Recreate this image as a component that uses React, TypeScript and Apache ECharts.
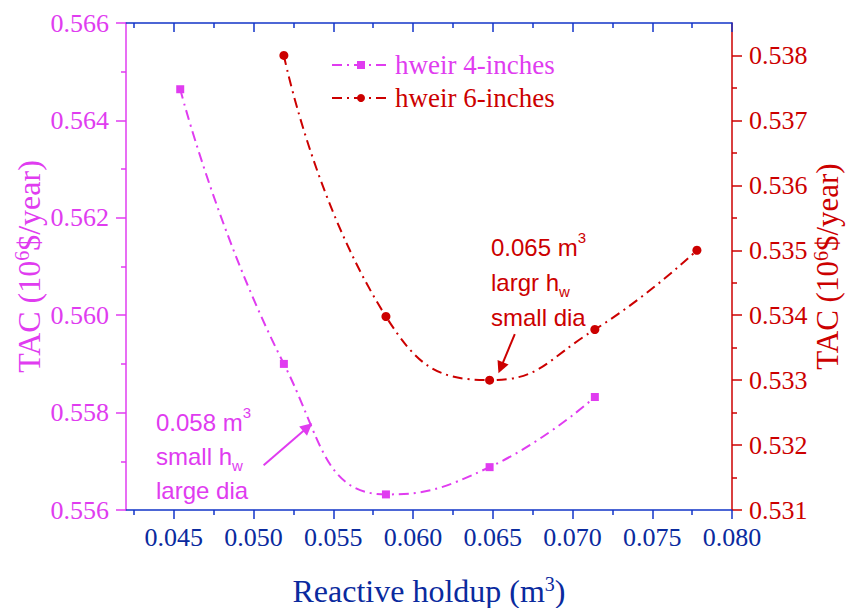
import React, { useEffect, useRef } from "react";
import * as echarts from "echarts";

const MAG = "#E03CF0";
const RED = "#CC0000";
const BLUE = "#1234C8";
const BLUE_TEXT = "#0A2A9E";
const SERIF = "Liberation Serif";
const SANS = "Liberation Sans";

const seriesNames = ["hweir 4-inches", "hweir 6-inches"];
const holdup4 = [0.0454, 0.0519, 0.0583, 0.0648, 0.0714];
const tac4 = [0.56464, 0.559, 0.55632, 0.55688, 0.55832];
const holdup6 = [0.0519, 0.0583, 0.0648, 0.0714, 0.0778];
const tac6 = [0.538, 0.53398, 0.533, 0.53378, 0.535];

const xMajor = [0.045, 0.05, 0.055, 0.06, 0.065, 0.07, 0.075, 0.08];
const xMinor = [0.0425, 0.0475, 0.0525, 0.0575, 0.0625, 0.0675, 0.0725, 0.0775];
const yLeftMajor = [0.556, 0.558, 0.56, 0.562, 0.564, 0.566];
const yLeftMinor = [0.557, 0.559, 0.561, 0.563, 0.565];
const yRightMajor = [0.531, 0.532, 0.533, 0.534, 0.535, 0.536, 0.537, 0.538];
const yRightMinor = [0.5315, 0.5325, 0.5335, 0.5345, 0.5355, 0.5365, 0.5375];

const X_MIN = 0.042, X_MAX = 0.08;
const YL_MIN = 0.556, YL_MAX = 0.566;
const YR_MIN = 0.531, YR_MAX = 0.5385;

// annotation arrows (data coordinates)
const arrow4 = [[0.05063, 0.55692], [0.05339, 0.5577]];
const arrow6 = [[0.06638, 0.53371], [0.0655, 0.53319]];

const fmt3 = (v: number) => v.toFixed(3);

function tickAxis(position: string, min: number, max: number, values: number[], len: number, inside: boolean, color: string, showLine: boolean) {
  return {
    type: "value",
    position,
    min,
    max,
    gridIndex: 0,
    axisLine: { show: showLine, onZero: false, lineStyle: { color, width: 1.5 } },
    axisTick: { show: true, inside, length: len, customValues: values, lineStyle: { color, width: 1.5 } },
    axisLabel: { show: false },
    splitLine: { show: false },
    silent: true,
  } as any;
}

function nameStyle(color: string, size: number) {
  return {
    color,
    fontFamily: SERIF,
    fontSize: size,
    lineHeight: size + 1,
    rich: { sup: { fontSize: 20, fontFamily: SERIF, color, verticalAlign: "top", lineHeight: 20 } },
  };
}

const option: any = {
  animation: false,
  backgroundColor: "#fff",
  grid: { left: 126, right: 116, top: 23, bottom: 98, containLabel: false, outerBoundsMode: "none" },
  legend: {
    orient: "vertical",
    left: 326,
    top: 45,
    itemWidth: 58,
    itemHeight: 10,
    itemGap: 3,
    textStyle: { fontFamily: SERIF, fontSize: 27, lineHeight: 30 },
    data: [
      { name: seriesNames[0], textStyle: { color: MAG } },
      { name: seriesNames[1], textStyle: { color: RED } },
    ],
  },
  xAxis: [
    {
      type: "value",
      position: "bottom",
      min: X_MIN,
      max: X_MAX,
      axisLine: { show: true, onZero: false, lineStyle: { color: BLUE, width: 1.5 } },
      axisTick: { show: true, length: 9, customValues: xMajor, lineStyle: { color: BLUE, width: 1.5 } },
      axisLabel: { customValues: xMajor, formatter: fmt3, color: BLUE_TEXT, fontFamily: SERIF, fontSize: 26, margin: 14 },
      splitLine: { show: false },
      name: "Reactive holdup (m{sup|3})",
      nameLocation: "middle",
      nameGap: 64,
      nameMoveOverlap: false,
      nameTextStyle: nameStyle(BLUE_TEXT, 32),
    },
    tickAxis("bottom", X_MIN, X_MAX, xMinor, 5, false, BLUE, false),
    tickAxis("top", X_MIN, X_MAX, xMajor, 9, true, BLUE, true),
    tickAxis("top", X_MIN, X_MAX, xMinor, 5, true, BLUE, false),
  ],
  yAxis: [
    {
      type: "value",
      position: "left",
      min: YL_MIN,
      max: YL_MAX,
      axisLine: { show: true, onZero: false, lineStyle: { color: MAG, width: 1.5 } },
      axisTick: { show: true, length: 10, customValues: yLeftMajor, lineStyle: { color: MAG, width: 1.5 } },
      axisLabel: { customValues: yLeftMajor, formatter: fmt3, color: MAG, fontFamily: SERIF, fontSize: 26, margin: 17 },
      splitLine: { show: false },
      name: "TAC (10{sup|6}$/year)",
      nameLocation: "middle",
      nameGap: 81,
      nameRotate: 90,
      nameMoveOverlap: false,
      nameTextStyle: nameStyle(MAG, 32),
    },
    {
      type: "value",
      position: "right",
      min: YR_MIN,
      max: YR_MAX,
      axisLine: { show: true, onZero: false, lineStyle: { color: RED, width: 1.5 } },
      axisTick: { show: true, length: 10, customValues: yRightMajor, lineStyle: { color: RED, width: 1.5 } },
      axisLabel: { customValues: yRightMajor, formatter: fmt3, color: RED, fontFamily: SERIF, fontSize: 26, margin: 17 },
      splitLine: { show: false },
      name: "TAC (10{sup|6}$/year)",
      nameLocation: "middle",
      nameGap: 79,
      nameRotate: 90,
      nameMoveOverlap: false,
      nameTextStyle: nameStyle(RED, 31),
    },
    tickAxis("left", YL_MIN, YL_MAX, yLeftMinor, 5, false, MAG, false),
    tickAxis("right", YR_MIN, YR_MAX, yRightMinor, 5, false, RED, false),
  ],
  series: [
    {
      type: "line",
      name: seriesNames[0],
      xAxisIndex: 0,
      yAxisIndex: 0,
      data: holdup4.map((x, i) => [x, tac4[i]]),
      smooth: 0.5,
      symbol: "rect",
      symbolSize: 8,
      lineStyle: { color: MAG, width: 2, type: [10, 5, 2, 5] },
      itemStyle: { color: MAG },
      emphasis: { disabled: true },
      markLine: {
        silent: true,
        symbol: ["none", "triangle"],
        symbolSize: 12,
        label: { show: false },
        lineStyle: { color: MAG, width: 2, type: "solid" },
        data: [[{ coord: arrow4[0] }, { coord: arrow4[1] }]],
      },
    },
    {
      type: "line",
      name: seriesNames[1],
      xAxisIndex: 0,
      yAxisIndex: 1,
      data: holdup6.map((x, i) => [x, tac6[i]]),
      smooth: 0.5,
      symbol: "circle",
      symbolSize: 9,
      lineStyle: { color: RED, width: 2, type: [10, 5, 2, 5] },
      itemStyle: { color: RED },
      emphasis: { disabled: true },
      markLine: {
        silent: true,
        symbol: ["none", "triangle"],
        symbolSize: 12,
        label: { show: false },
        lineStyle: { color: RED, width: 2, type: "solid" },
        data: [[{ coord: arrow6[0] }, { coord: arrow6[1] }]],
      },
    },
  ],
};

function annText(x: number, y: number, text: string, color: string) {
  return {
    type: "text",
    x,
    y,
    silent: true,
    style: {
      text,
      fill: color,
      fontFamily: SANS,
      fontSize: 24,
      align: "left",
      verticalAlign: "middle",
      rich: {
        a: { fill: color, fontFamily: SANS, fontSize: 24, lineHeight: 34 },
        sup: { fill: color, fontFamily: SANS, fontSize: 15, lineHeight: 15, verticalAlign: "top" },
        sub: { fill: color, fontFamily: SANS, fontSize: 15, lineHeight: 15, verticalAlign: "bottom" },
      },
    },
  };
}

option.graphic = [
  annText(156, 422, "{a|0.058 m}{sup|3}", MAG),
  annText(156, 456, "{a|small h}{sub|w}", MAG),
  annText(156, 490, "{a|large dia}", MAG),
  annText(491, 247, "{a|0.065 m}{sup|3}", RED),
  annText(491, 282, "{a|largr h}{sub|w}", RED),
  annText(491, 317, "{a|small dia}", RED),
];

export default function App() {
  const ref = useRef<HTMLDivElement>(null);
  useEffect(() => {
    const chart = echarts.init(ref.current!, null, { renderer: "svg" });
    chart.setOption(option);
    return () => chart.dispose();
  }, []);
  return (
    <div
      ref={ref}
      style={{ position: "fixed", left: 0, top: 0, width: 848, height: 608, background: "#fff" }}
    />
  );
}
